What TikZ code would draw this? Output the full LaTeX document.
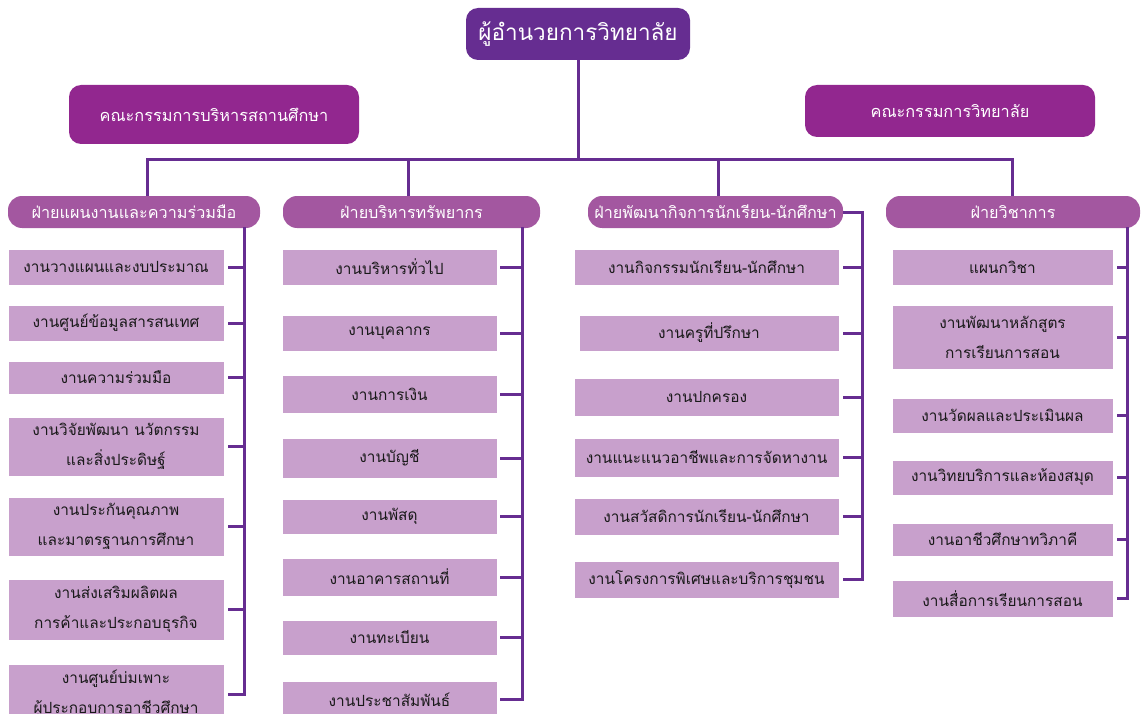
\documentclass[tikz,border=0pt]{standalone}
\usepackage{fontspec}
\newfontfamily\thaifont[Script=Thai]{Loma}
\usepackage{xcolor}
\definecolor{headpurple}{HTML}{662D91}
\definecolor{boardpurple}{HTML}{92278F}
\definecolor{deptpurple}{HTML}{A357A0}
\definecolor{jobpurple}{HTML}{C8A0CC}

\begin{document}
\begin{tikzpicture}[x=1pt,y=-1pt,
  link/.style={headpurple, line width=3pt},
  headbox/.style={fill=headpurple, rounded corners=12pt, text=white, font=\thaifont\fontsize{22.5}{26}\selectfont, minimum width=224pt, minimum height=52pt, inner sep=0pt},
  boardbox/.style={fill=boardpurple, rounded corners=12pt, text=white, font=\thaifont\fontsize{16.3}{19}\selectfont, minimum width=290pt, inner sep=0pt},
  deptbox/.style={fill=deptpurple, rounded corners=14pt, text=white, font=\thaifont\fontsize{16.2}{19}\selectfont, minimum height=32pt, inner sep=0pt},
  jobbox/.style={fill=jobpurple, draw=white, line width=0.6pt, text=black!90, font=\thaifont\fontsize{15.4}{30}\selectfont, align=center, inner sep=0pt}
]
\useasboundingbox (0,0) rectangle (1142,714);

% top
\node[headbox] (head) at (578,34) {ผู้อำนวยการวิทยาลัย};
\node[boardbox, minimum height=59pt] (board1) at (214,114.5) {คณะกรรมการบริหารสถานศึกษา};
\node[boardbox, minimum height=52pt] (board2) at (950,111) {คณะกรรมการวิทยาลัย};

% departments
\node[deptbox, minimum width=252pt] (d1) at (134,212) {ฝ่ายแผนงานและความร่วมมือ};
\node[deptbox, minimum width=257pt] (d2) at (411.5,212) {ฝ่ายบริหารทรัพยากร};
\node[deptbox, minimum width=255pt] (d3) at (715.5,212) {ฝ่ายพัฒนากิจการนักเรียน-นักศึกษา};
\node[deptbox, minimum width=254pt] (d4) at (1013,212) {ฝ่ายวิชาการ};

\coordinate (j1) at (147,160);
\coordinate (j2) at (408,160);
\coordinate (j3) at (718,160);
\coordinate (j4) at (1012,160);

\draw[link] (head.south) -- (head.south |- j1);
\draw[link, line cap=rect] (j1) -- (j4);
\draw[link] (j1) -- (j1 |- d1.north);
\draw[link] (j2) -- (j2 |- d2.north);
\draw[link] (j3) -- (j3 |- d3.north);
\draw[link] (j4) -- (j4 |- d4.north);

% column 1
\begin{scope}[every node/.style={jobbox, minimum width=216pt}]
\node[minimum height=36pt] (p11) at (116,267) {งานวางแผนและงบประมาณ};
\node[minimum height=36pt] (p12) at (116,323) {งานศูนย์ข้อมูลสารสนเทศ};
\node[minimum height=33pt] (p13) at (116,377.5) {งานความร่วมมือ};
\node[minimum height=59pt] (p14) at (116,446.5) {งานวิจัยพัฒนา นวัตกรรม\\และสิ่งประดิษฐ์};
\node[minimum height=59pt] (p15) at (116,526.5) {งานประกันคุณภาพ\\และมาตรฐานการศึกษา};
\node[minimum height=61pt] (p16) at (116,609.5) {งานส่งเสริมผลิตผล\\การค้าและประกอบธุรกิจ};
\node[minimum height=60pt] (p17) at (116,694) {งานศูนย์บ่มเพาะ\\ผู้ประกอบการอาชีวศึกษา};
\end{scope}

% column 2
\begin{scope}[every node/.style={jobbox, minimum width=215pt}]
\node[minimum height=36pt] (p21) at (389.5,267) {งานบริหารทั่วไป};
\node[minimum height=36pt] (p22) at (389.5,333) {งานบุคลากร};
\node[minimum height=38pt] (p23) at (389.5,394) {งานการเงิน};
\node[minimum height=40pt] (p24) at (389.5,458) {งานบัญชี};
\node[minimum height=35pt] (p25) at (389.5,516.5) {งานพัสดุ};
\node[minimum height=38pt] (p26) at (389.5,577) {งานอาคารสถานที่};
\node[minimum height=35pt] (p27) at (389.5,637.5) {งานทะเบียน};
\node[minimum height=37pt] (p28) at (389.5,699.5) {งานประชาสัมพันธ์};
\end{scope}

% column 3
\begin{scope}[every node/.style={jobbox, minimum width=265pt}]
\node[minimum height=36pt] (p31) at (706.5,267) {งานกิจกรรมนักเรียน-นักศึกษา};
\node[minimum height=36pt, minimum width=260pt] (p32) at (709,333) {งานครูที่ปรึกษา};
\node[minimum height=38pt] (p33) at (706.5,397) {งานปกครอง};
\node[minimum height=39pt] (p34) at (706.5,457.5) {งานแนะแนวอาชีพและการจัดหางาน};
\node[minimum height=37pt] (p35) at (706.5,516.5) {งานสวัสดิการนักเรียน-นักศึกษา};
\node[minimum height=37pt] (p36) at (706.5,579.5) {งานโครงการพิเศษและบริการชุมชน};
\end{scope}

% column 4
\begin{scope}[every node/.style={jobbox, minimum width=221pt}]
\node[minimum height=36pt] (p41) at (1002.5,267) {แผนกวิชา};
\node[minimum height=64pt] (p42) at (1002.5,337) {งานพัฒนาหลักสูตร\\การเรียนการสอน};
\node[minimum height=35pt] (p43) at (1002.5,415.5) {งานวัดผลและประเมินผล};
\node[minimum height=35pt] (p44) at (1002.5,477.5) {งานวิทยบริการและห้องสมุด};
\node[minimum height=33pt] (p45) at (1002.5,539.5) {งานอาชีวศึกษาทวิภาคี};
\node[minimum height=37pt] (p46) at (1002.5,598.5) {งานสื่อการเรียนการสอน};
\end{scope}

% brackets
\coordinate (c1) at (244,0);
\coordinate (c2) at (522,0);
\coordinate (c3) at (862,0);
\coordinate (c4) at (1127,0);

\draw[link, line cap=rect] (c1 |- d1.south) -- (c1 |- p17);
\draw[link, line cap=rect] (c2 |- d2.south) -- (c2 |- p28);
\draw[link, line cap=rect] ([xshift=1pt]d3.east) -| (c3 |- p36);
\draw[link, line cap=rect] (c4 |- d4.south) -- (c4 |- p46);

\foreach \i in {1,...,7} \draw[link] ([xshift=4pt]p1\i.east) -- (p1\i.east -| c1);
\foreach \i in {1,...,8} \draw[link] ([xshift=3pt]p2\i.east) -- (p2\i.east -| c2);
\foreach \i in {1,...,6} \draw[link] ([xshift=4pt]p3\i.east) -- (p3\i.east -| c3);
\foreach \i in {1,...,6} \draw[link] ([xshift=4pt]p4\i.east) -- (p4\i.east -| c4);

\end{tikzpicture}
\end{document}
